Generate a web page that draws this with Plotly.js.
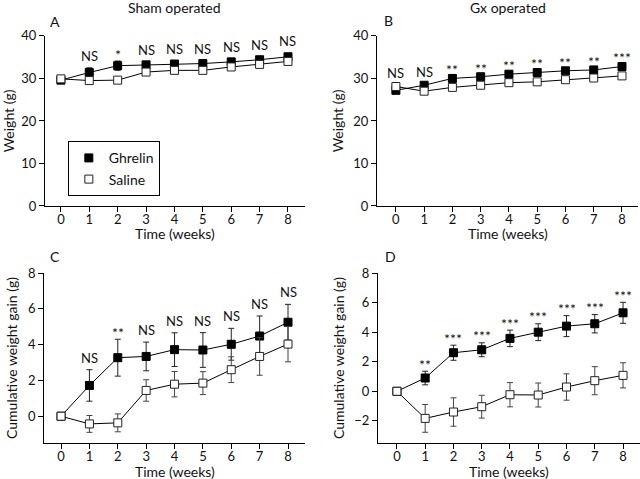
<!DOCTYPE html>
<html>
<head>
<meta charset="utf-8">
<script src="https://cdn.plot.ly/plotly-3.0.1.min.js"></script>
<style>
  html, body { margin: 0; padding: 0; background: #fff; }
  #chart { width: 640px; height: 479px; }
</style>
</head>
<body>
<div id="chart"></div>
<script>
// weeks after operation
var weeks = [0, 1, 2, 3, 4, 5, 6, 7, 8];

// A - sham operated, body weight (g)
var shamWeightGhrelin = [29.6, 31.4, 33.0, 33.2, 33.4, 33.5, 33.9, 34.4, 35.1];
var shamWeightGhrelinErr = [0.4, 1.1, 1.1, 0.6, 0.6, 0.6, 0.6, 0.6, 0.8];
var shamWeightSaline = [29.9, 29.5, 29.6, 31.5, 31.9, 31.9, 32.7, 33.3, 34.0];
var shamWeightSalineErr = [0.4, 0.4, 0.4, 0.4, 0.4, 0.4, 0.4, 0.5, 0.5];
var shamWeightSig = ['', 'NS', '*', 'NS', 'NS', 'NS', 'NS', 'NS', 'NS'];

// B - Gx operated, body weight (g)
var gxWeightGhrelin = [27.2, 28.4, 30.0, 30.4, 31.0, 31.4, 31.8, 32.0, 32.8];
var gxWeightGhrelinErr = [0.4, 0.4, 0.4, 0.4, 0.4, 0.4, 0.4, 0.4, 0.4];
var gxWeightSaline = [28.1, 27.0, 27.9, 28.4, 29.0, 29.2, 29.7, 30.1, 30.6];
var gxWeightSalineErr = [0.4, 0.4, 0.4, 0.4, 0.4, 0.4, 0.4, 0.4, 0.4];
var gxWeightSig = ['NS', 'NS', '**', '**', '**', '**', '**', '**', '***'];

// C - sham operated, cumulative weight gain (g)
var shamGainGhrelin = [0, 1.72, 3.27, 3.34, 3.72, 3.70, 4.02, 4.48, 5.25];
var shamGainGhrelinErr = [0, 0.88, 1.03, 0.8, 0.94, 0.97, 0.89, 1.12, 1.0];
var shamGainSaline = [0, -0.43, -0.37, 1.44, 1.79, 1.85, 2.6, 3.34, 4.03];
var shamGainSalineErr = [0, 0.47, 0.5, 0.6, 0.71, 0.64, 0.72, 1.05, 0.99];
var shamGainSig = ['', 'NS', '**', 'NS', 'NS', 'NS', 'NS', 'NS', 'NS'];

// D - Gx operated, cumulative weight gain (g)
var gxGainGhrelin = [0, 0.9, 2.61, 2.81, 3.58, 4.0, 4.41, 4.57, 5.31];
var gxGainGhrelinErr = [0, 0.46, 0.51, 0.47, 0.56, 0.57, 0.71, 0.62, 0.71];
var gxGainSaline = [0, -1.83, -1.4, -1.04, -0.23, -0.25, 0.29, 0.72, 1.08];
var gxGainSalineErr = [0, 0.94, 0.96, 0.77, 0.82, 0.81, 0.89, 0.95, 0.85];
var gxGainSig = ['', '**', '***', '***', '***', '***', '***', '***', '***'];

var FONT = 'Lato, "DejaVu Sans", sans-serif';
var INK = '#111';

var panels = [
  { ax: '', g: shamWeightGhrelin, ge: shamWeightGhrelinErr, s: shamWeightSaline, se: shamWeightSalineErr, sig: shamWeightSig, legend: true },
  { ax: '2', g: gxWeightGhrelin, ge: gxWeightGhrelinErr, s: gxWeightSaline, se: gxWeightSalineErr, sig: gxWeightSig },
  { ax: '3', g: shamGainGhrelin, ge: shamGainGhrelinErr, s: shamGainSaline, se: shamGainSalineErr, sig: shamGainSig },
  { ax: '4', g: gxGainGhrelin, ge: gxGainGhrelinErr, s: gxGainSaline, se: gxGainSalineErr, sig: gxGainSig }
];

var traces = [];
var annotations = [];

panels.forEach(function(p) {
  var xa = 'x' + p.ax, ya = 'y' + p.ax;
  // connecting lines
  [p.g, p.s].forEach(function(vals) {
    traces.push({
      x: weeks, y: vals, xaxis: xa, yaxis: ya, type: 'scatter', mode: 'lines',
      line: { color: '#000', width: 1 }, showlegend: false, hoverinfo: 'skip'
    });
  });
  // markers with error bars (saline drawn last, on top)
  traces.push({
    x: weeks, y: p.g, xaxis: xa, yaxis: ya, type: 'scatter', mode: 'markers',
    name: 'Ghrelin', showlegend: !!p.legend,
    marker: { symbol: 'square', size: 8, color: '#000', line: { color: '#000', width: 1 } },
    error_y: { type: 'data', array: p.ge, color: '#222', thickness: 1, width: 3 }
  });
  traces.push({
    x: weeks, y: p.s, xaxis: xa, yaxis: ya, type: 'scatter', mode: 'markers',
    name: 'Saline', showlegend: !!p.legend,
    marker: { symbol: 'square', size: 8, color: '#fff', line: { color: '#222', width: 1 } },
    error_y: { type: 'data', array: p.se, color: '#444', thickness: 1, width: 3 }
  });
  // significance labels just above the higher error bar
  weeks.forEach(function(w, i) {
    if (!p.sig[i]) return;
    var top = Math.max(p.g[i] + p.ge[i], p.s[i] + p.se[i]);
    var star = p.sig[i].charAt(0) === '*';
    annotations.push({
      x: w, y: top, xref: xa, yref: ya, text: p.sig[i], showarrow: false,
      yanchor: 'middle', yshift: star ? 7 : 12,
      font: { size: star ? 14 : 13, family: FONT, color: INK }
    });
  });
  // x axis title, placed under the axis line
  annotations.push({
    text: 'Time (weeks)', xref: xa + ' domain', yref: ya + ' domain',
    x: 0.5, y: 0, xanchor: 'center', yanchor: 'middle', yshift: -28,
    showarrow: false, font: { size: 14, family: FONT, color: INK }
  });
});

function axisStyle(extra) {
  var a = {
    showline: true, linecolor: '#000', linewidth: 1, mirror: false,
    ticks: 'outside', ticklen: 5, tickcolor: '#000', tickwidth: 1,
    showgrid: false, zeroline: false, fixedrange: true,
    tickfont: { size: 13, family: FONT, color: INK }
  };
  for (var k in extra) a[k] = extra[k];
  return a;
}

function xAxis(dom, rng, anchor) {
  return axisStyle({ domain: dom, range: rng, anchor: anchor, tickvals: weeks, ticklabelstandoff: -4 });
}
function yAxis(dom, rng, anchor, title, dtick) {
  return axisStyle({
    domain: dom, range: rng, anchor: anchor, dtick: dtick,
    title: { text: title, standoff: 6, font: { size: 14, family: FONT, color: INK } }
  });
}

var topDom = [0.570, 0.925];
var botDom = [0.075, 0.430];

var panelText = [
  { t: 'Sham operated', x: 0.273, y: 0.985 },
  { t: 'Gx operated', x: 0.794, y: 0.985 },
  { t: 'A', x: 0.075, y: 0.955 },
  { t: 'B', x: 0.597, y: 0.957 },
  { t: 'C', x: 0.075, y: 0.465 },
  { t: 'D', x: 0.598, y: 0.465 }
];
panelText.forEach(function(o) {
  annotations.push({
    text: o.t, x: o.x, y: o.y, xref: 'paper', yref: 'paper', showarrow: false,
    xanchor: o.t.length > 1 ? 'center' : 'left', yanchor: 'middle',
    font: { size: 14, family: FONT, color: INK }
  });
});

var layout = {
  width: 640, height: 479,
  margin: { l: 0, r: 0, t: 0, b: 0 },
  paper_bgcolor: '#fff', plot_bgcolor: '#fff',
  font: { family: FONT, color: INK, size: 13 },
  showlegend: true,
  legend: {
    x: 0.106, y: 0.705, xanchor: 'left', yanchor: 'top',
    bordercolor: '#000', borderwidth: 1, bgcolor: '#fff',
    font: { size: 14, family: FONT, color: INK },
    itemwidth: 30, tracegroupgap: 0
  },
  xaxis: xAxis([0.0703, 0.4766], [-0.56, 8.6], 'y'),
  yaxis: yAxis(topDom, [0, 40], 'x', 'Weight (g)', 10),
  xaxis2: xAxis([0.589, 0.997], [-0.67, 8.57], 'y2'),
  yaxis2: yAxis(topDom, [0, 40], 'x2', 'Weight (g)', 10),
  xaxis3: xAxis([0.0688, 0.4766], [-0.6, 8.6], 'y3'),
  yaxis3: yAxis(botDom, [-1.5, 8], 'x3', 'Cumulative weight gain (g)', 2),
  xaxis4: xAxis([0.5906, 1.0], [-0.67, 8.6], 'y4'),
  yaxis4: yAxis(botDom, [-3.5, 8], 'x4', 'Cumulative weight gain (g)', 2),
  annotations: annotations
};

Plotly.newPlot('chart', traces, layout, { displayModeBar: false, staticPlot: true });
</script>
</body>
</html>
